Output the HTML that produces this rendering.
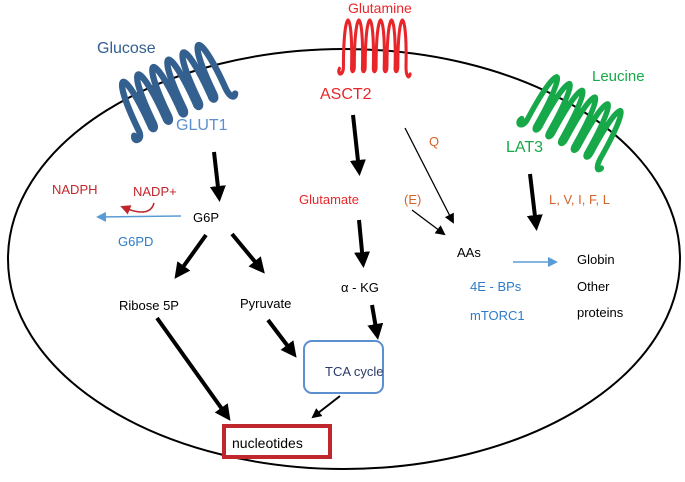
<!DOCTYPE html>
<html><head><style>
body{margin:0;background:#fff}
svg text{font-family:"Liberation Sans",sans-serif}
</style></head><body>
<svg width="685" height="477" viewBox="0 0 685 477" xmlns="http://www.w3.org/2000/svg">
<defs>
<marker id="ab" markerWidth="4" markerHeight="4" refX="2.5" refY="2" orient="auto" markerUnits="strokeWidth"><path d="M0,0 L4,2 L0,4 z" fill="#000"/></marker>
<marker id="at" markerWidth="10" markerHeight="10" refX="8" refY="5" orient="auto" markerUnits="userSpaceOnUse"><path d="M0,0 L10,5 L0,10 z" fill="#000"/></marker>
<marker id="abl" markerWidth="10" markerHeight="10" refX="8" refY="5" orient="auto" markerUnits="userSpaceOnUse"><path d="M0,0 L10,5 L0,10 z" fill="#5b9bd5"/></marker>
<marker id="ar" markerWidth="10" markerHeight="10" refX="5" refY="5" orient="auto" markerUnits="userSpaceOnUse"><path d="M0,0 L10,5 L0,10 z" fill="#c0272d"/></marker>
<path id="coil" d="M-48,25 c-4,6 6,8 6,-2 c0,-65 14,-65 12,0 c-1,6 4,6 4,0 c0,-65 14,-65 12,0 c-1,6 4,6 4,0 c0,-65 14,-65 12,0 c-1,6 4,6 4,0 c0,-65 14,-65 12,0 c-1,6 4,6 4,0 c0,-65 14,-65 12,0 c-1,6 4,6 4,0 c0,-65 14,-65 12,0 c0,10 4,12 6,8" fill="none" stroke-linecap="round"/>
</defs>
<ellipse cx="344" cy="259" rx="336" ry="210" fill="none" stroke="#000" stroke-width="2"/>
<use href="#coil" transform="translate(168,90) rotate(-26) scale(1.05,1.05)" stroke="#34608f" stroke-width="6"/>
<use href="#coil" transform="translate(372,45) scale(0.68,0.95)" stroke="#e8262a" stroke-width="4.5"/>
<use href="#coil" transform="translate(572,116) rotate(28) scale(0.9,1.05)" stroke="#17a84a" stroke-width="6"/>
<text x="97" y="53" font-size="16" fill="#34608f">Glucose</text>
<text x="176" y="130" font-size="16" fill="#5b8fcf">GLUT1</text>
<text x="348" y="13" font-size="14" fill="#e8262a">Glutamine</text>
<text x="320" y="99" font-size="16" fill="#e8262a">ASCT2</text>
<text x="592" y="81" font-size="15" fill="#17a84a">Leucine</text>
<text x="506" y="152" font-size="16" fill="#17a84a">LAT3</text>
<text x="429" y="146" font-size="13" fill="#d4632a">Q</text>
<text x="404" y="204" font-size="13" fill="#d4632a">(E)</text>
<text x="549" y="204" font-size="13" fill="#d4632a">L, V, I, F, L</text>
<text x="52" y="194" font-size="13" fill="#c0272d">NADPH</text>
<text x="133" y="196" font-size="13" fill="#c0272d">NADP+</text>
<text x="193" y="222" font-size="13" fill="#000">G6P</text>
<text x="118" y="246" font-size="13" fill="#2e7bc8">G6PD</text>
<text x="299" y="204" font-size="13" fill="#e8262a">Glutamate</text>
<text x="341" y="292" font-size="13" fill="#000">α - KG</text>
<text x="119" y="310" font-size="13" fill="#000">Ribose 5P</text>
<text x="240" y="308" font-size="13" fill="#000">Pyruvate</text>
<text x="457" y="257" font-size="13" fill="#000">AAs</text>
<text x="470" y="291" font-size="13" fill="#2e7bc8">4E  - BPs</text>
<text x="470" y="320" font-size="13" fill="#2e7bc8">mTORC1</text>
<text x="577" y="264" font-size="13" fill="#000">Globin</text>
<text x="577" y="291" font-size="13" fill="#000">Other</text>
<text x="577" y="317" font-size="13" fill="#000">proteins</text>
<rect x="304" y="341" width="79" height="52" rx="8" fill="#fff" stroke="#5b8fcf" stroke-width="2"/>
<text x="325" y="376" font-size="13" fill="#2b3a6b">TCA cycle</text>
<rect x="224" y="426" width="106" height="31" fill="#fff" stroke="#c0272d" stroke-width="4"/>
<text x="232" y="448" font-size="14" fill="#000">nucleotides</text>
<g stroke="#000" stroke-width="4" fill="none">
<line x1="214" y1="152" x2="219" y2="196" marker-end="url(#ab)"/>
<line x1="206" y1="235" x2="178" y2="274" marker-end="url(#ab)"/>
<line x1="232" y1="234" x2="261" y2="269" marker-end="url(#ab)"/>
<line x1="157" y1="318" x2="227" y2="416" marker-end="url(#ab)"/>
<line x1="268" y1="320" x2="293" y2="353" marker-end="url(#ab)"/>
<line x1="353" y1="115" x2="359" y2="170" marker-end="url(#ab)"/>
<line x1="359" y1="220" x2="363" y2="262" marker-end="url(#ab)"/>
<line x1="372" y1="305" x2="377" y2="334" marker-end="url(#ab)"/>
<line x1="530" y1="174" x2="536" y2="225" marker-end="url(#ab)"/>
</g>
<g stroke="#000" stroke-width="1.3" fill="none">
<line x1="405" y1="128" x2="453" y2="222" marker-end="url(#at)"/>
<line x1="412" y1="210" x2="444" y2="234" marker-end="url(#at)"/>
<line x1="340" y1="396" x2="313" y2="417" stroke-width="2" marker-end="url(#at)"/>
</g>
<line x1="181" y1="216" x2="98" y2="217" stroke="#5b9bd5" stroke-width="1.5" marker-end="url(#abl)"/>
<line x1="513" y1="262" x2="556" y2="262" stroke="#5b9bd5" stroke-width="1.5" marker-end="url(#abl)"/>
<path d="M154,203 Q150,218 125,208" fill="none" stroke="#c0272d" stroke-width="1.5" marker-end="url(#ar)"/>
</svg>
</body></html>
